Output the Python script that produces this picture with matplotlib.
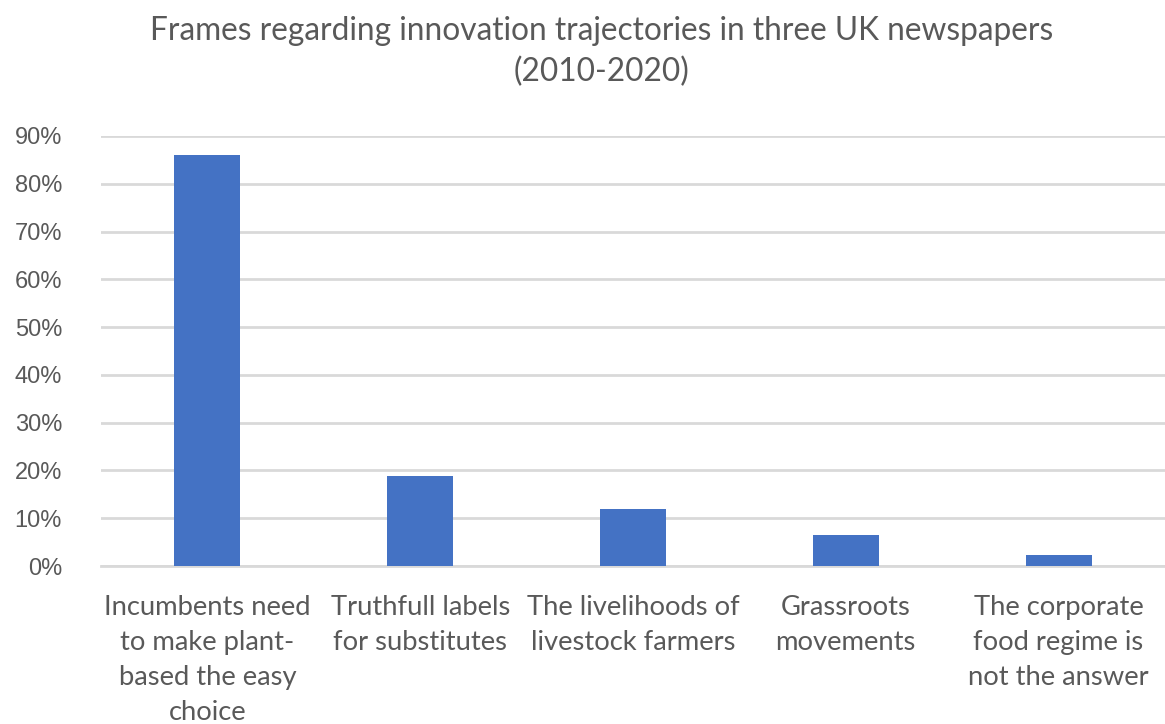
import matplotlib.pyplot as plt
from matplotlib.ticker import PercentFormatter

# share of articles using each frame
frames = [
    "Incumbents need\nto make plant-\nbased the easy\nchoice",
    "Truthfull labels\nfor substitutes",
    "The livelihoods of\nlivestock farmers",
    "Grassroots\nmovements",
    "The corporate\nfood regime is\nnot the answer",
]
shares = [0.86, 0.189, 0.12, 0.065, 0.023]
yticks = [0.0, 0.1, 0.2, 0.3, 0.4, 0.5, 0.6, 0.7, 0.8, 0.9]

grey = "#595959"

fig = plt.figure(figsize=(11.65, 7.24), dpi=100)
ax = fig.add_axes([0.0867, 0.2182, 0.9133, 0.594])

x = range(len(frames))
ax.bar(x, shares, width=0.31, color="#4472C4", zorder=3)

ax.set_xlim(-0.5, len(frames) - 0.5)
ax.set_ylim(0, 0.9)
ax.set_yticks(yticks)
ax.yaxis.set_major_formatter(PercentFormatter(1.0, decimals=0))
ax.grid(axis="y", color="#d9d9d9", linewidth=2, zorder=0)
ax.tick_params(axis="y", length=0, pad=28, labelsize=17, labelcolor=grey)
ax.tick_params(axis="x", length=0, pad=21)
for lab in ax.get_yticklabels():
    lab.set_family("Liberation Sans")

ax.set_xticks(list(x))
ax.set_xticklabels(frames, family="Lato", fontsize=19.7, color=grey,
                   linespacing=1.5, va="top")

for side in ["top", "left", "right"]:
    ax.spines[side].set_visible(False)
ax.spines["bottom"].set_color("#d9d9d9")
ax.spines["bottom"].set_linewidth(2)

fig.suptitle("Frames regarding innovation trajectories in three UK newspapers\n(2010-2020)",
             family="Lato", fontsize=22.8, color=grey, x=0.516, y=0.978,
             linespacing=1.45)

fig.savefig("out.png", dpi=100)
